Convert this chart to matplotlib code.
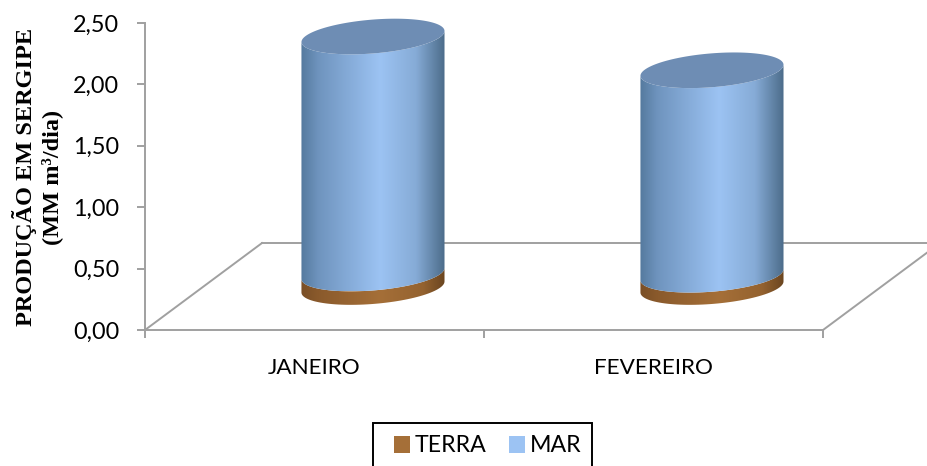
import numpy as np
import matplotlib
matplotlib.use('Agg')
import matplotlib.pyplot as plt
from matplotlib.colors import LinearSegmentedColormap
from matplotlib.patches import Patch, Polygon, Rectangle

# values
categories = ['JANEIRO', 'FEVEREIRO']
terra = [0.11, 0.10]
mar = [1.93, 1.665]
y_ticks = [0, 0.5, 1, 1.5, 2, 2.5]
y_labels = ['0,00', '0,50', '1,00', '1,50', '2,00', '2,50']
legend_names = ['TERRA', 'MAR']

W, H = 928, 466
fig = plt.figure(figsize=(W / 100, H / 100), dpi=100, facecolor='white')
ax = fig.add_axes([145 / W, 1 - 330 / H, (823 - 145) / W, (330 - 23) / H])

grey = '#A0A0A0'
depth_x, depth_y = 0.345, 0.708   # floor shift of the fake 3D box
half_w, ell_b, ell_s = 0.211, 0.138, 0.045
base_y = 0.35

cmap_mar = LinearSegmentedColormap.from_list('mar', [(0, '#557A9E'), (0.12, '#6F94BE'), (0.55, '#9CC3F3'),
                                                     (0.8, '#86ABD6'), (1, '#4C6C8A')])
cmap_terra = LinearSegmentedColormap.from_list('terra', [(0, '#7A4F26'), (0.12, '#8A5A2C'), (0.55, '#A56F38'),
                                                         (0.85, '#94622F'), (1, '#6A4520')])


def lower_arc(cx, y):
    t = np.linspace(np.pi, 2 * np.pi, 60)
    return cx + half_w * np.cos(t), y + ell_b * np.sin(t) + ell_s * np.cos(t)


def draw_body(cx, y0, y1, cmap, z):
    xa, ya = lower_arc(cx, y0)
    xb, yb = lower_arc(cx, y1)
    pts = np.column_stack([np.r_[xa, xb[::-1]], np.r_[ya, yb[::-1]]])
    shape = Polygon(pts, closed=True, transform=ax.transData, facecolor='none', edgecolor='none')
    grad = np.linspace(0, 1, 256).reshape(1, -1)
    im = ax.imshow(grad, cmap=cmap, aspect='auto', zorder=z, interpolation='bilinear',
                   extent=[cx - half_w, cx + half_w, pts[:, 1].min(), pts[:, 1].max()])
    im.set_clip_path(shape)
    im.set_clip_box(fig.bbox)


# floor of the box
ax.plot([-0.5, -0.5 + depth_x], [0, depth_y], color=grey, lw=1.4, clip_on=False, zorder=1)
ax.plot([-0.5 + depth_x, 1.5 + depth_x], [depth_y, depth_y], color=grey, lw=1.4, clip_on=False, zorder=1)
ax.plot([1.5, 1.5 + depth_x], [0, depth_y], color=grey, lw=1.4, clip_on=False, zorder=1)

for i in range(len(categories)):
    cx = i + depth_x / 2
    top_terra = base_y + terra[i]
    top_mar = top_terra + mar[i]
    draw_body(cx, base_y, top_terra, cmap_terra, 3)
    draw_body(cx, top_terra, top_mar, cmap_mar, 4)
    t = np.linspace(0, 2 * np.pi, 120)
    cap = np.column_stack([cx + half_w * np.cos(t), top_mar + ell_b * np.sin(t) + ell_s * np.cos(t)])
    ax.add_patch(Polygon(cap, closed=True, facecolor='#6E8DB4', edgecolor='none', zorder=5, clip_on=False))

ax.set_xlim(-0.5, 1.5)
ax.set_ylim(0, 2.5)

ax.spines['top'].set_visible(False)
ax.spines['right'].set_visible(False)
ax.spines['left'].set_color(grey)
ax.spines['bottom'].set_color(grey)
ax.spines['left'].set_linewidth(1.4)
ax.spines['bottom'].set_linewidth(1.4)

ax.set_xticks([0, 1])
ax.set_xticklabels(categories, fontname='Lato', fontsize=16.2)
ax.set_xticks([-0.5, 0.5, 1.5], minor=True)
ax.tick_params(axis='x', which='major', length=0, pad=20)
ax.tick_params(axis='x', which='minor', length=6, width=1.4, color=grey)
ax.set_yticks(y_ticks)
ax.set_yticklabels(y_labels, fontname='Lato', fontsize=16.8)
ax.tick_params(axis='y', length=6, width=1.4, color=grey, pad=12.5)

fig.text(25 / W, 1 - 177 / H, 'PRODUÇÃO EM SERGIPE', rotation=90, ha='center', va='center',
         fontname='Liberation Serif', fontweight='bold', fontsize=17.5)
fig.text(52 / W, 1 - 177 / H, '(MM m³/dia)', rotation=90, ha='center', va='center',
         fontname='Liberation Serif', fontweight='bold', fontsize=17.5)

# legend box runs off the bottom of the image, so it is drawn on its own
fig.add_artist(Rectangle((373 / W, 1 - 475 / H), (592 - 373) / W, (475 - 423) / H, transform=fig.transFigure,
                         facecolor='white', edgecolor='black', linewidth=1.4))
handles = [Patch(facecolor='#A56F38'), Patch(facecolor='#9CC3F3')]
leg = fig.legend(handles, legend_names, ncol=2, loc='center', bbox_to_anchor=(487.5 / W, 1 - 446 / H),
                 prop={'family': 'Lato', 'size': 16.7}, frameon=False,
                 handlelength=0.7, handleheight=0.7, handletextpad=0.2, columnspacing=0.95,
                 borderpad=0, borderaxespad=0)

fig.savefig('out.png', dpi=100)
